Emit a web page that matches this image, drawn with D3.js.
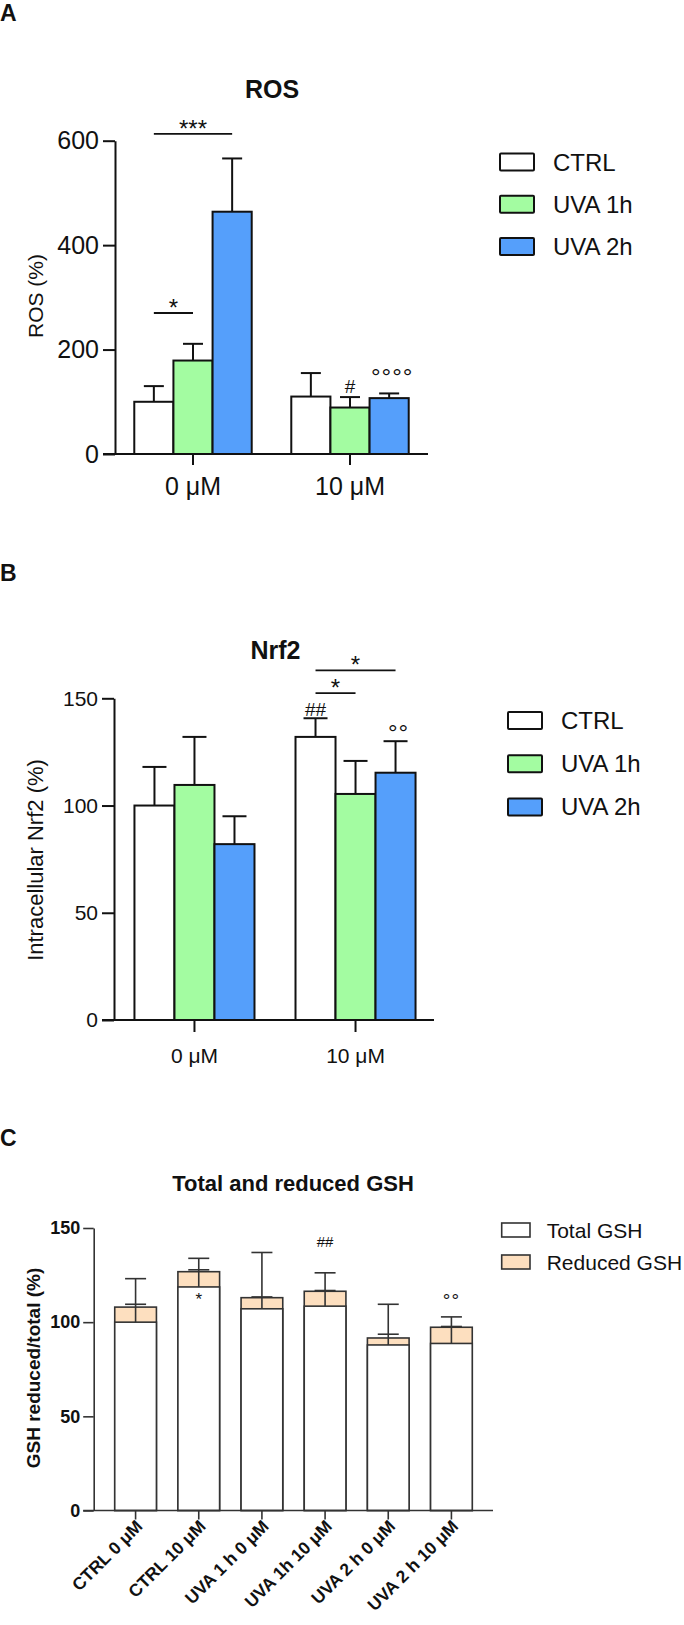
<!DOCTYPE html>
<html><head><meta charset="utf-8">
<script src="https://cdn.jsdelivr.net/npm/d3@7"></script>
<style>
body{margin:0;background:#fff}
svg{display:block}
text{font-family:"Liberation Sans",Arial,Helvetica,sans-serif;fill:#111}
</style>
</head><body>
<svg id="c" width="684" height="1625"></svg>
<script>
// ---------- DATA ----------
const groups = ["0 μM", "10 μM"];
const series = ["CTRL", "UVA 1h", "UVA 2h"];
const seriesColors = ["#ffffff", "#a3fca1", "#559ffb"];

const rosMean = [[100, 179, 464], [110, 89, 107]];
const rosErr  = [[30, 32, 102], [45, 20, 9]];
const rosTicks = [0, 200, 400, 600];

const nrfMean = [[100, 109.6, 82], [132, 105.4, 115.3]];
const nrfErr  = [[18, 22.4, 13], [8.7, 15.4, 14.7]];
const nrfTicks = [0, 50, 100, 150];

const gshCats = ["CTRL 0 μM", "CTRL 10 μM", "UVA 1 h 0 μM", "UVA 1h 10 μM", "UVA 2 h 0 μM", "UVA 2 h 10 μM"];
const gshTotal      = [100, 118.7, 107.1, 108.5, 87.9, 88.7];
const gshTotalErr   = [23.1, 15.2, 29.9, 17.7, 21.6, 14.1];
const gshReduced    = [108, 126.8, 113, 116.4, 91.6, 97.3];
const gshReducedErr = [1.5, 1.0, 0.4, 0.4, 2.0, 0.4];
const gshTicks = [0, 50, 100, 150];
const gshSeries = ["Total GSH", "Reduced GSH"];
const gshColors = ["#ffffff", "#fddfbf"];

// significance annotations (data units)
const rosBrackets = [{g: 0, from: 0, to: 2, y: 613, label: "***"}, {g: 0, from: 0, to: 1, y: 270, label: "*"}];
const rosMarks = [{g: 1, s: 1, y: 129, label: "#", kind: "hash"}, {g: 1, s: 2, y: 158, label: "°°°°", kind: "deg"}];
const nrfBrackets = [{g: 1, from: 0, to: 2, y: 163, label: "*"}, {g: 1, from: 0, to: 1, y: 152.4, label: "*"}];
const nrfMarks = [{g: 1, s: 0, y: 145, label: "##", kind: "hash"}, {g: 1, s: 2, y: 136.5, label: "°°", kind: "deg"}];
const gshMarks = [{i: 1, y: 114.3, label: "*", kind: "star"}, {i: 3, y: 143, label: "##", kind: "hashc"}, {i: 5, y: 114, label: "°°", kind: "degc"}];

// ---------- DRAW ----------
const svg = d3.select("#c");
const INK = "#111";

function panelLetter(t, x, y) {
  svg.append("text").attr("x", x).attr("y", y).text(t)
    .attr("font-size", 23).attr("font-weight", "bold");
}

function glyphText(g, label, x, yCenter, kind) {
  const cfg = {
    star: {fs: 24, off: 0.58}, hash: {fs: 19, off: 0.36}, deg: {fs: 24, off: 0.57, ls: 1},
    hashc: {fs: 15, off: 0.36}, degc: {fs: 19, off: 0.57, ls: 1}, starc: {fs: 17, off: 0.58}
  }[kind];
  const t = g.append("text").attr("x", x).attr("y", yCenter + cfg.off * cfg.fs)
    .attr("text-anchor", "middle").attr("font-size", cfg.fs).text(label);
  if (cfg.ls) t.attr("letter-spacing", cfg.ls);
  return t;
}

function groupedPanel(o) {
  const g = svg.append("g");
  const y = d3.scaleLinear().domain([0, o.ymax]).range([o.y0, o.y1]);
  const x0 = d3.scaleBand().domain(groups).range([o.xl, o.xr]).paddingInner(o.pi).paddingOuter(o.po);
  const x1 = d3.scaleBand().domain(series).range([0, x0.bandwidth()]);
  const cx = (gi, si) => x0(groups[gi]) + x1(series[si]) + x1.bandwidth() / 2;

  groups.forEach((grp, gi) => {
    series.forEach((s, si) => {
      const v = o.mean[gi][si], e = o.err[gi][si];
      const c = cx(gi, si);
      g.append("line").attr("x1", c).attr("x2", c).attr("y1", y(v)).attr("y2", y(v + e))
        .attr("stroke", INK).attr("stroke-width", 2);
      g.append("line").attr("x1", c - o.cap).attr("x2", c + o.cap).attr("y1", y(v + e)).attr("y2", y(v + e))
        .attr("stroke", INK).attr("stroke-width", 2);
      g.append("rect").attr("x", x0(grp) + x1(s)).attr("y", y(v))
        .attr("width", x1.bandwidth()).attr("height", y(0) - y(v))
        .attr("fill", seriesColors[si]).attr("stroke", INK).attr("stroke-width", 2);
    });
  });

  const ya = g.append("g").attr("transform", `translate(${o.yAxisX},0)`)
    .call(d3.axisLeft(y).tickValues(o.ticks).tickSize(12).tickSizeOuter(0).tickPadding(4));
  ya.selectAll("path,line").attr("stroke", INK).attr("stroke-width", 2);
  ya.selectAll("text").attr("font-size", o.tickFs).attr("fill", INK)
    .style("font-family", '"Liberation Sans", Arial, sans-serif');

  const xa = g.append("g").attr("transform", `translate(0,${o.y0})`)
    .call(d3.axisBottom(x0).tickSize(o.xTick).tickSizeOuter(0).tickPadding(o.xPad));
  xa.select(".domain").remove();
  xa.selectAll("line").attr("stroke", INK).attr("stroke-width", 2);
  xa.selectAll("text").attr("font-size", o.tickFs).attr("fill", INK)
    .style("font-family", '"Liberation Sans", Arial, sans-serif');
  g.append("line").attr("x1", o.yAxisX - 12).attr("x2", o.xEnd).attr("y1", o.y0).attr("y2", o.y0)
    .attr("stroke", INK).attr("stroke-width", 2);

  g.append("text").attr("x", o.titleX).attr("y", o.titleY).attr("text-anchor", "middle")
    .attr("font-size", 25).attr("font-weight", "bold").text(o.title);
  g.append("text").attr("transform", `translate(${o.ylabX},${o.ylabY}) rotate(-90)`)
    .attr("text-anchor", "middle").attr("font-size", o.ylabFs).text(o.ylab);

  o.brackets.forEach(b => {
    const xa1 = cx(b.g, b.from), xa2 = cx(b.g, b.to);
    g.append("line").attr("x1", xa1).attr("x2", xa2).attr("y1", y(b.y)).attr("y2", y(b.y))
      .attr("stroke", INK).attr("stroke-width", 1.8);
    glyphText(g, b.label, (xa1 + xa2) / 2, y(b.y) - 11, "star");
  });
  o.marks.forEach(m => {
    glyphText(g, m.label, cx(m.g, m.s) + (m.kind === "deg" ? 3 : 0), y(m.y), m.kind);
  });

  series.forEach((s, si) => {
    const cy = o.legY + si * o.legStep;
    g.append("rect").attr("x", o.legX).attr("y", cy - 8.5).attr("width", 34).attr("height", 17)
      .attr("fill", seriesColors[si]).attr("stroke", INK).attr("stroke-width", 2).attr("rx", 1);
    g.append("text").attr("x", o.legX + 53).attr("y", cy + 8.5).attr("font-size", 24).text(s);
  });
}

panelLetter("A", 0, 21);
groupedPanel({
  mean: rosMean, err: rosErr, ticks: rosTicks, ymax: 600,
  y0: 454, y1: 140.7, xl: 115, xr: 428, pi: 0.252, po: 0.1228, yAxisX: 115, xEnd: 428,
  cap: 10, tickFs: 25, xTick: 11, xPad: 12,
  title: "ROS", titleX: 272, titleY: 98, ylab: "ROS (%)", ylabX: 43, ylabY: 296, ylabFs: 21,
  brackets: rosBrackets, marks: rosMarks, legX: 500, legY: 162, legStep: 42.3
});

panelLetter("B", 0, 581);
groupedPanel({
  mean: nrfMean, err: nrfErr, ticks: nrfTicks, ymax: 150,
  y0: 1020, y1: 698.3, xl: 114, xr: 436, pi: 0.2547, po: 0.127, yAxisX: 114, xEnd: 434,
  cap: 12, tickFs: 21, xTick: 12, xPad: 16,
  title: "Nrf2", titleX: 275.5, titleY: 659, ylab: "Intracellular Nrf2 (%)", ylabX: 43, ylabY: 860, ylabFs: 22,
  brackets: nrfBrackets, marks: nrfMarks, legX: 508, legY: 720.5, legStep: 43.2
});

// ---------- Panel C ----------
panelLetter("C", 0, 1146);
(function () {
  const g = svg.append("g");
  const CI = "#333";
  const y = d3.scaleLinear().domain([0, 150]).range([1510.5, 1228]);
  const x = d3.scaleBand().domain(gshCats).range([104, 483]).paddingInner(0.34).paddingOuter(0.17);
  const bw = x.bandwidth();

  gshCats.forEach((c, i) => {
    const bx = x(c), cxp = bx + bw / 2;
    g.append("rect").attr("x", bx).attr("y", y(gshReduced[i])).attr("width", bw)
      .attr("height", y(0) - y(gshReduced[i])).attr("fill", gshColors[1]).attr("stroke", CI).attr("stroke-width", 1.6);
    g.append("rect").attr("x", bx).attr("y", y(gshTotal[i])).attr("width", bw)
      .attr("height", y(0) - y(gshTotal[i])).attr("fill", gshColors[0]).attr("stroke", CI).attr("stroke-width", 1.6);
    const te = gshTotal[i] + gshTotalErr[i], re = gshReduced[i] + gshReducedErr[i];
    g.append("line").attr("x1", cxp).attr("x2", cxp).attr("y1", y(gshTotal[i])).attr("y2", y(te))
      .attr("stroke", CI).attr("stroke-width", 1.6);
    [te, re].forEach(v => g.append("line").attr("x1", cxp - 10.5).attr("x2", cxp + 10.5)
      .attr("y1", y(v)).attr("y2", y(v)).attr("stroke", CI).attr("stroke-width", 1.6));
  });

  const ya = g.append("g").attr("transform", "translate(93.7,0)")
    .call(d3.axisLeft(y).tickValues(gshTicks).tickSize(10.5).tickSizeOuter(0).tickPadding(3));
  ya.selectAll("path,line").attr("stroke", CI).attr("stroke-width", 1.6);
  ya.selectAll("text").attr("font-size", 18).attr("font-weight", "bold").attr("fill", INK)
    .style("font-family", '"Liberation Sans", Arial, sans-serif');

  const xa = g.append("g").attr("transform", `translate(0,${y(0)})`)
    .call(d3.axisBottom(x).tickSize(9).tickSizeOuter(0));
  xa.select(".domain").remove();
  xa.selectAll("line").attr("stroke", CI).attr("stroke-width", 1.6);
  xa.selectAll("text").attr("font-size", 17.5).attr("font-weight", "bold").attr("fill", INK)
    .style("font-family", '"Liberation Sans", Arial, sans-serif')
    .attr("text-anchor", "end").attr("dy", null).attr("y", 0)
    .attr("transform", "translate(8,17) rotate(-45)");
  g.append("line").attr("x1", 83.2).attr("x2", 493).attr("y1", y(0)).attr("y2", y(0))
    .attr("stroke", CI).attr("stroke-width", 1.6);

  g.append("text").attr("x", 293).attr("y", 1191).attr("text-anchor", "middle")
    .attr("font-size", 22).attr("font-weight", "bold").text("Total and reduced GSH");
  g.append("text").attr("transform", "translate(40,1368) rotate(-90)").attr("text-anchor", "middle")
    .attr("font-size", 19).attr("font-weight", "bold").text("GSH reduced/total (%)");

  gshMarks.forEach(m => {
    const k = m.kind === "star" ? "starc" : m.kind;
    glyphText(g, m.label, x(gshCats[m.i]) + bw / 2, y(m.y), k);
  });

  gshSeries.forEach((s, si) => {
    const cy = 1230 + si * 32;
    g.append("rect").attr("x", 501.7).attr("y", cy - 7).attr("width", 28.3).attr("height", 14)
      .attr("fill", gshColors[si]).attr("stroke", CI).attr("stroke-width", 1.6);
    g.append("text").attr("x", 546.7).attr("y", cy + 7.5).attr("font-size", 21).text(s);
  });
})();
</script>
</body></html>
